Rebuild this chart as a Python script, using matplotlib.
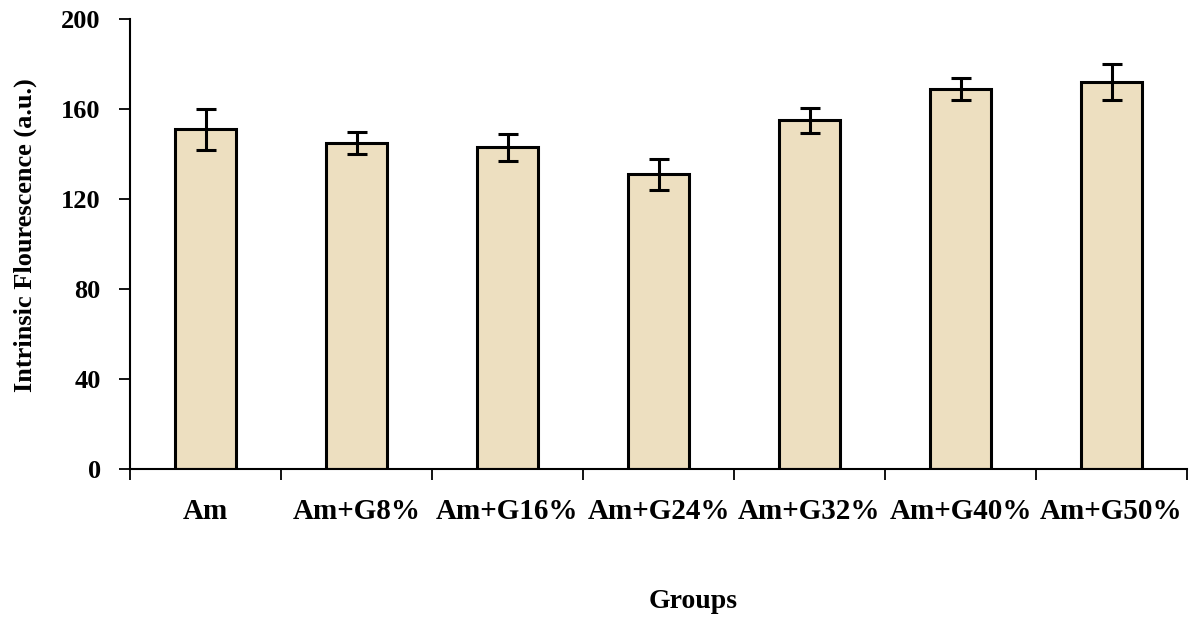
import matplotlib
matplotlib.use("Agg")
import matplotlib.pyplot as plt
import numpy as np

categories = ["Am", "Am+G8%", "Am+G16%", "Am+G24%", "Am+G32%", "Am+G40%", "Am+G50%"]
values = [151, 145, 143, 131, 155, 169, 172]
errors = [9, 5, 6, 7, 5.5, 5, 8]
yticks = [0, 40, 80, 120, 160, 200]

plt.rcParams['font.family'] = ['Liberation Serif', 'DejaVu Serif']
plt.rcParams['font.weight'] = 'bold'

fig = plt.figure(figsize=(11.91, 6.22), dpi=100)
ax = fig.add_axes([130/1191, 1-469/622, 1057/1191, 450/622])

x = np.arange(len(categories))
ax.bar(x, values, width=0.4, color="#EDDFC0", edgecolor="black", linewidth=2.2, zorder=2)
ax.errorbar(x, values, yerr=errors, fmt="none", ecolor="black", elinewidth=2.2,
            capsize=7, capthick=2.2, zorder=3)

ax.set_xlim(-0.5, len(categories) - 0.5)
ax.set_ylim(0, 200)
ax.set_yticks(yticks)
ax.set_yticklabels([str(t) for t in yticks], fontsize=19, fontweight='bold')

ax.set_xticks(np.arange(len(categories) + 1) - 0.5)
ax.set_xticklabels([])
ax.set_xticks(x, minor=True)
ax.set_xticklabels(categories, minor=True, fontsize=21, fontweight='bold')
ax.tick_params(axis='x', which='minor', length=0, pad=21)
ax.tick_params(axis='x', which='major', length=8, width=1.3, direction='out')
ax.tick_params(axis='y', which='major', length=8, width=1.3, direction='out', pad=13)

for s in ["top", "right"]:
    ax.spines[s].set_visible(False)
ax.spines["left"].set_linewidth(1.5)
ax.spines["bottom"].set_linewidth(1.5)

fig.text(25/1191, 1-235/622, "Intrinsic Flourescence (a.u.)", rotation=90,
         ha="center", va="center", fontsize=19, fontweight='bold')
fig.text(693/1191, 1-602/622, "Groups", ha="center", va="center", fontsize=20, fontweight='bold')

fig.savefig("out.png", dpi=100)
